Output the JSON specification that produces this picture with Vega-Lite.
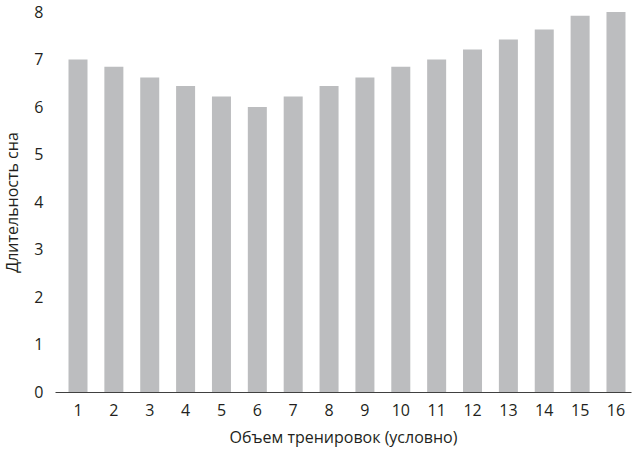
{
  "$schema": "https://vega.github.io/schema/vega-lite/v6.json",
  "width": 576,
  "height": 380,
  "autosize": {"type": "none"},
  "padding": {"left": 55, "top": 12, "right": 5, "bottom": 61},
  "background": "white",
  "config": {
    "view": {"stroke": null},
    "font": "Open Sans",
    "axis": {"labelFont": "Open Sans", "titleFont": "Open Sans", "labelColor": "#231f20", "titleColor": "#231f20", "titleFontWeight": "normal", "labelFontSize": 16, "titleFontSize": 16, "grid": false}
  },
  "data": {
    "values": [
      {"x": 1, "y": 7.0},
      {"x": 2, "y": 6.85},
      {"x": 3, "y": 6.62},
      {"x": 4, "y": 6.44},
      {"x": 5, "y": 6.22},
      {"x": 6, "y": 6.0},
      {"x": 7, "y": 6.22},
      {"x": 8, "y": 6.44},
      {"x": 9, "y": 6.62},
      {"x": 10, "y": 6.85},
      {"x": 11, "y": 7.0},
      {"x": 12, "y": 7.21},
      {"x": 13, "y": 7.42},
      {"x": 14, "y": 7.63},
      {"x": 15, "y": 7.92},
      {"x": 16, "y": 8.0}
    ]
  },
  "mark": {"type": "bar", "color": "#bcbdbf"},
  "encoding": {
    "x": {
      "field": "x",
      "type": "ordinal",
      "scale": {"paddingInner": 0.47, "paddingOuter": 0.265, "align": 0.71},
      "axis": {
        "title": "Объем тренировок (условно)",
        "labelAngle": 0,
        "ticks": false,
        "domainColor": "#404040",
        "domainWidth": 1,
        "labelPadding": 10,
        "titlePadding": 11
      }
    },
    "y": {
      "field": "y",
      "type": "quantitative",
      "scale": {"domain": [0, 8], "nice": false},
      "axis": {
        "title": "Длительность сна",
        "values": [0, 1, 2, 3, 4, 5, 6, 7, 8],
        "domain": false,
        "ticks": false,
        "labelPadding": 12,
        "titlePadding": 13
      }
    }
  }
}
